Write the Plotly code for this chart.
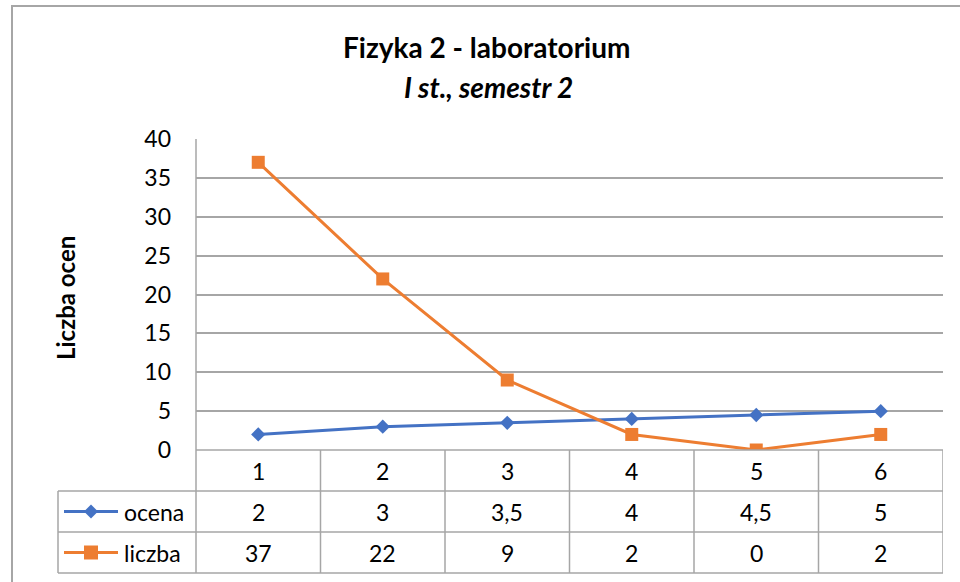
import plotly.graph_objects as go

# ---- data ----
categories = [1, 2, 3, 4, 5, 6]
ocena = [2, 3, 3.5, 4, 4.5, 5]
liczba = [37, 22, 9, 2, 0, 2]
series_names = ["ocena", "liczba"]
title_main = "Fizyka 2 - laboratorium"
title_sub = "I st., semestr 2"
y_title = "Liczba ocen"

# ---- layout constants (pixels) ----
W, H = 960, 582
PX_L, PX_R = 196, 943          # plot area left/right
PY_TOP, PY_ZERO = 139, 450     # y=40 and y=0
ROW_Y = [450, 491, 532, 573]   # table row borders
TABLE_LEFT = 58
BLUE = "#4472C4"
ORANGE = "#ED7D31"
GRID = "#a6a6a6"
FONT = "Lato"
TXT = 23


def px(x):
    return x / W


def py(y):
    return (H - y) / H


def fmt(v):
    s = ("%g" % v)
    return s.replace(".", ",")


fig = go.Figure()
fig.add_trace(go.Scatter(x=categories, y=ocena, mode="lines+markers", name=series_names[0],
                         line=dict(color=BLUE, width=3),
                         marker=dict(symbol="diamond", size=11, color=BLUE)))
fig.add_trace(go.Scatter(x=categories, y=liczba, mode="lines+markers", name=series_names[1],
                         line=dict(color=ORANGE, width=3),
                         marker=dict(symbol="square", size=13, color=ORANGE)))

shapes = []
# outer chart border
shapes.append(dict(type="rect", xref="paper", yref="paper", x0=px(12), x1=px(975),
                   y0=py(600), y1=py(6), line=dict(color="#a6a6a6", width=2)))
# y-axis line extended through table
shapes.append(dict(type="line", xref="paper", yref="paper", x0=px(PX_L), x1=px(PX_L),
                   y0=py(ROW_Y[-1]), y1=py(PY_TOP), line=dict(color=GRID, width=1.5)))
# table horizontal lines
shapes.append(dict(type="line", xref="paper", yref="paper", x0=px(PX_L), x1=px(PX_R),
                   y0=py(ROW_Y[0]), y1=py(ROW_Y[0]), line=dict(color=GRID, width=1.5)))
for ry in ROW_Y[1:]:
    shapes.append(dict(type="line", xref="paper", yref="paper", x0=px(TABLE_LEFT), x1=px(PX_R),
                       y0=py(ry), y1=py(ry), line=dict(color=GRID, width=1.5)))
# left border of legend column
shapes.append(dict(type="line", xref="paper", yref="paper", x0=px(TABLE_LEFT), x1=px(TABLE_LEFT),
                   y0=py(ROW_Y[-1]), y1=py(ROW_Y[1]), line=dict(color=GRID, width=1.5)))
# table vertical lines between categories
for i in range(len(categories)):
    xb = categories[i] + 0.5
    shapes.append(dict(type="line", xref="x", yref="paper", x0=xb, x1=xb,
                       y0=py(ROW_Y[-1]), y1=py(ROW_Y[0]), line=dict(color=GRID, width=1.5)))

# legend keys in table
key_x0, key_x1, key_mid = 64, 118, 91
row_centers = [(ROW_Y[i] + ROW_Y[i + 1]) / 2 for i in range(3)]
ry = row_centers[1]
shapes.append(dict(type="line", xref="paper", yref="paper", x0=px(key_x0), x1=px(key_x1),
                   y0=py(ry), y1=py(ry), line=dict(color=BLUE, width=3)))
d = 7
shapes.append(dict(type="path", xref="paper", yref="paper",
                   path=f"M {px(key_mid)},{py(ry - d)} L {px(key_mid + d)},{py(ry)} L {px(key_mid)},{py(ry + d)} L {px(key_mid - d)},{py(ry)} Z",
                   fillcolor=BLUE, line=dict(color=BLUE, width=0)))
ry = row_centers[2]
shapes.append(dict(type="line", xref="paper", yref="paper", x0=px(key_x0), x1=px(key_x1),
                   y0=py(ry), y1=py(ry), line=dict(color=ORANGE, width=3)))
s = 7
shapes.append(dict(type="rect", xref="paper", yref="paper", x0=px(key_mid - s), x1=px(key_mid + s),
                   y0=py(ry + s), y1=py(ry - s), fillcolor=ORANGE, line=dict(color=ORANGE, width=0)))

annotations = []
tfont = dict(family=FONT, size=TXT, color="#000000")
for c in categories:
    annotations.append(dict(x=c, y=py(row_centers[0]), xref="x", yref="paper", text=str(c),
                            showarrow=False, font=tfont, xanchor="center", yanchor="middle"))
for c, v in zip(categories, ocena):
    annotations.append(dict(x=c, y=py(row_centers[1]), xref="x", yref="paper", text=fmt(v),
                            showarrow=False, font=tfont, xanchor="center", yanchor="middle"))
for c, v in zip(categories, liczba):
    annotations.append(dict(x=c, y=py(row_centers[2]), xref="x", yref="paper", text=fmt(v),
                            showarrow=False, font=tfont, xanchor="center", yanchor="middle"))
for name, rc in zip(series_names, row_centers[1:]):
    annotations.append(dict(x=px(122), y=py(rc), xref="paper", yref="paper", text=name,
                            showarrow=False, font=tfont, xanchor="left", yanchor="middle"))
# titles
annotations.append(dict(x=px(486), y=py(47), xref="paper", yref="paper", text="<b>" + title_main + "</b>",
                        showarrow=False, font=dict(family=FONT, size=28, color="#000"),
                        xanchor="center", yanchor="middle"))
annotations.append(dict(x=px(488), y=py(87), xref="paper", yref="paper", text="<b><i>" + title_sub + "</i></b>",
                        showarrow=False, font=dict(family=FONT, size=28, color="#000"),
                        xanchor="center", yanchor="middle"))
annotations.append(dict(x=px(65), y=py(298), xref="paper", yref="paper", text="<b>" + y_title + "</b>",
                        showarrow=False, font=dict(family=FONT, size=24, color="#000"), textangle=-90,
                        xanchor="center", yanchor="middle"))

fig.update_layout(
    width=W, height=H, autosize=False,
    margin=dict(l=0, r=0, t=0, b=0, pad=0),
    paper_bgcolor="white", plot_bgcolor="white",
    showlegend=False,
    shapes=shapes,
    annotations=annotations,
    xaxis=dict(domain=[px(PX_L), px(PX_R)], range=[0.5, 6.5], showticklabels=False,
               showgrid=False, zeroline=False, showline=False, ticks="", automargin=False),
    yaxis=dict(domain=[py(PY_ZERO), py(PY_TOP)], range=[0, 40], dtick=5, tick0=0,
               showgrid=True, gridcolor=GRID, gridwidth=1.5, zeroline=False, showline=False,
               ticks="", ticklabelstandoff=24, automargin=False,
               tickfont=dict(family=FONT, size=TXT, color="#000")),
)

fig.write_html("out.html", config={"responsive": False, "displayModeBar": False},
               post_script="document.body.style.margin='0';document.body.style.overflow='hidden';")
